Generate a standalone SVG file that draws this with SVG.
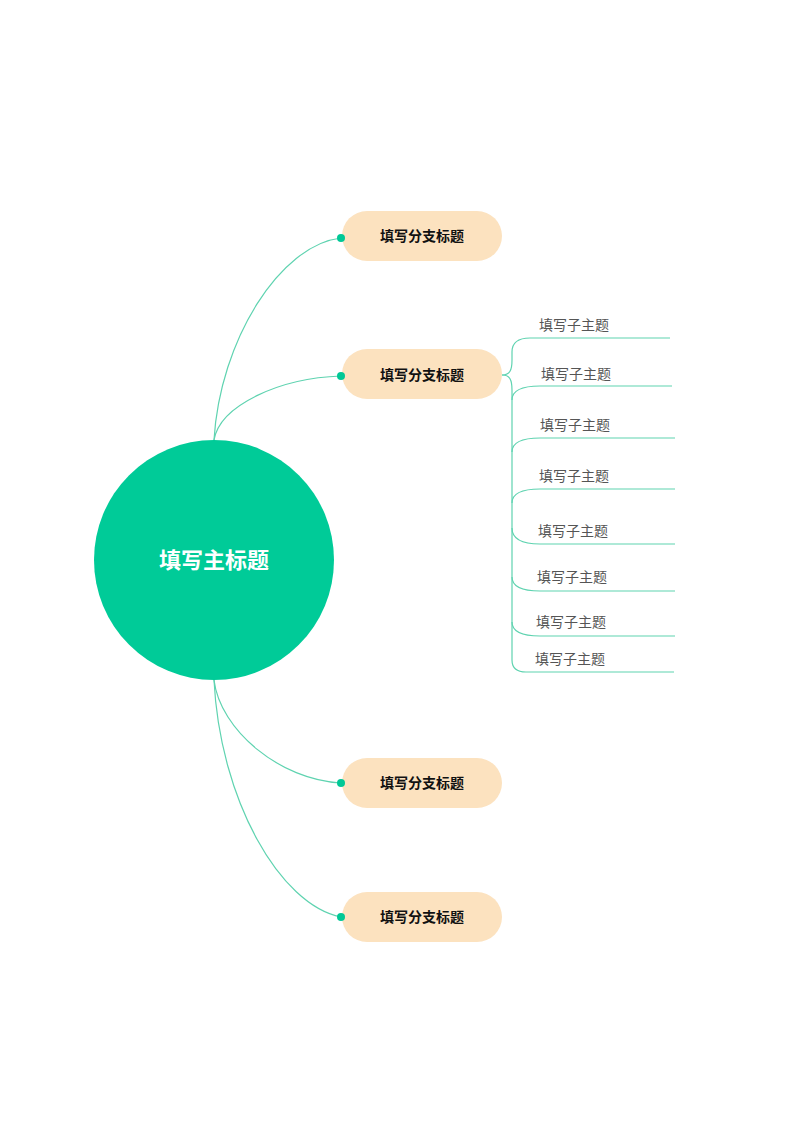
<svg xmlns="http://www.w3.org/2000/svg" width="800" height="1131" viewBox="0 0 800 1131">
<style>
.c{fill:none;stroke:#5fd3b0;stroke-width:1.2}
.b{fill:#fce2bf}
.bt{font-family:"Noto Sans CJK SC",sans-serif;font-size:14px;font-weight:bold;fill:#111;text-anchor:middle}
.st{font-family:"Noto Sans CJK SC",sans-serif;font-size:14px;fill:#555;text-anchor:middle}
.d{fill:#00c896}
</style>
<rect width="800" height="1131" fill="#fff"/>
<g id="connectors">
<path class="c" d="M214,440 C220,340 280,245 341,238"/>
<path class="c" d="M214,440 C220,405 280,378 341,376"/>
<path class="c" d="M214,680 C220,730 280,780 341,783"/>
<path class="c" d="M214,680 C220,800 280,905 341,917"/>
<path class="c" d="M502,375 C510,375 512,370 512,360 L512,352 Q512,338 530,338 L670,338"/>
<path class="c" d="M502,375 C510,375 512,380 512,390 L512,660 Q512,672 526,672 L674,672"/>
<path class="c" d="M512,400 Q512,386 540,386 L672,386"/>
<path class="c" d="M512,452 Q512,438 540,438 L675,438"/>
<path class="c" d="M512,503 Q512,489 540,489 L675,489"/>
<path class="c" d="M512,528 Q512,544 540,544 L675,544"/>
<path class="c" d="M512,577 Q512,591 540,591 L675,591"/>
<path class="c" d="M512,622 Q512,636 540,636 L675,636"/>
</g>
<g id="main"><circle cx="214" cy="560" r="120" fill="#00cb98"/>
<text x="214" y="568" font-family="Noto Sans CJK SC,sans-serif" font-size="22" font-weight="bold" fill="#fff" text-anchor="middle">填写主标题</text></g>
<g id="b1"><rect class="b" x="342" y="211" width="160" height="50" rx="25"/><circle class="d" cx="341" cy="238" r="4"/><text class="bt" x="422" y="241">填写分支标题</text></g>
<g id="b2"><rect class="b" x="342" y="349" width="160" height="50" rx="25"/><circle class="d" cx="341" cy="376" r="4"/><text class="bt" x="422" y="380">填写分支标题</text></g>
<g id="b3"><rect class="b" x="342" y="758" width="160" height="50" rx="25"/><circle class="d" cx="341" cy="783" r="4"/><text class="bt" x="422" y="788">填写分支标题</text></g>
<g id="b4"><rect class="b" x="342" y="892" width="160" height="50" rx="25"/><circle class="d" cx="341" cy="917" r="4"/><text class="bt" x="422" y="922">填写分支标题</text></g>
<g id="s1"><text class="st" x="574" y="330">填写子主题</text></g>
<g id="s2"><text class="st" x="576" y="379">填写子主题</text></g>
<g id="s3"><text class="st" x="575" y="430">填写子主题</text></g>
<g id="s4"><text class="st" x="574" y="481">填写子主题</text></g>
<g id="s5"><text class="st" x="573" y="536">填写子主题</text></g>
<g id="s6"><text class="st" x="572" y="582">填写子主题</text></g>
<g id="s7"><text class="st" x="571" y="627">填写子主题</text></g>
<g id="s8"><text class="st" x="570" y="664">填写子主题</text></g>
</svg>
